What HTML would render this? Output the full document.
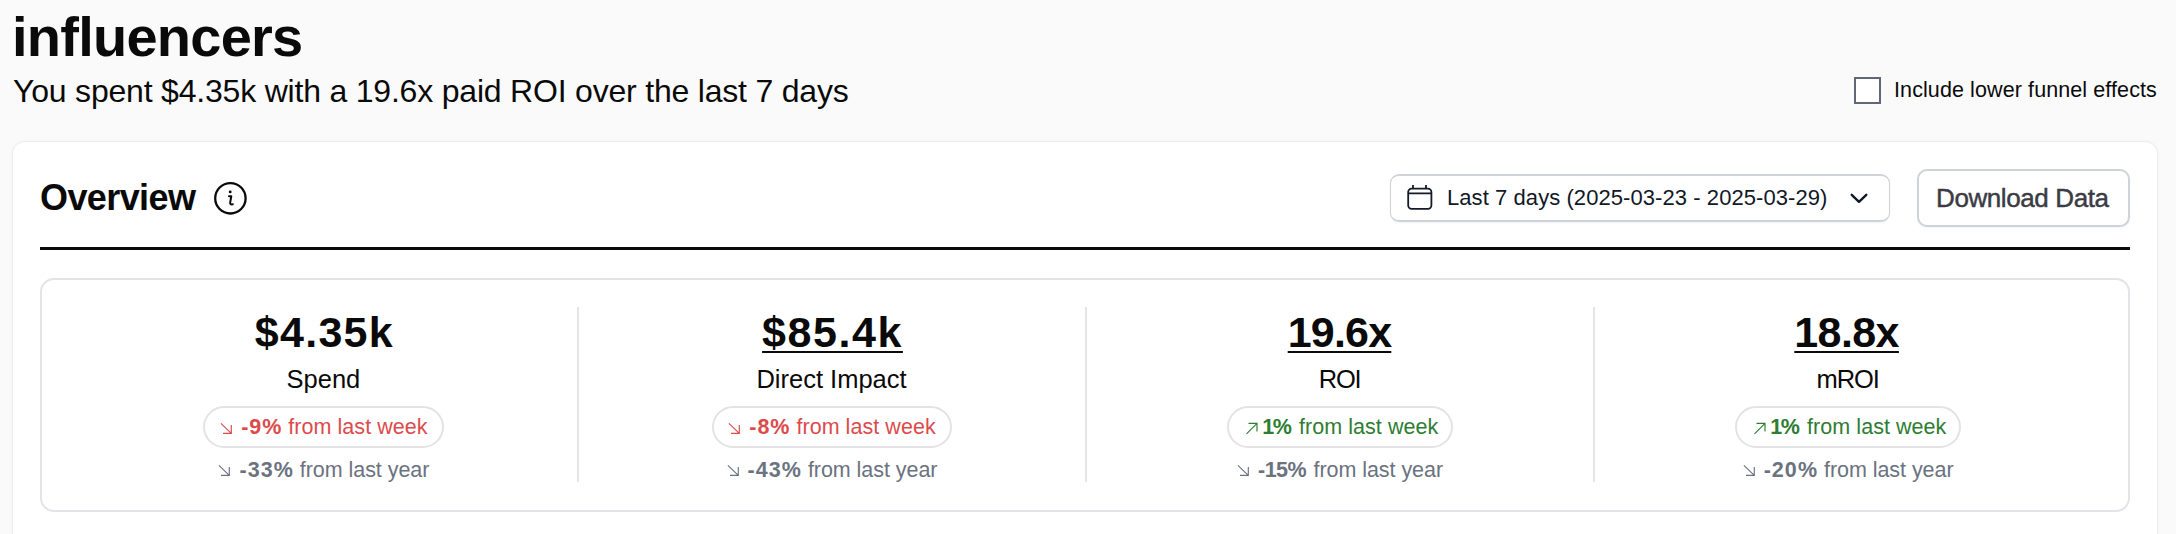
<!DOCTYPE html>
<html><head><meta charset="utf-8">
<style>
html,body{margin:0;padding:0;}
body{width:2176px;height:534px;overflow:hidden;background:#fafafa;position:relative;font-family:"Liberation Sans",sans-serif;color:#0a0a0a;}
.a{position:absolute;white-space:nowrap;line-height:1;}
#title{left:12px;top:9px;font-size:56px;font-weight:700;letter-spacing:-0.75px;}
#sub{left:13px;top:75px;font-size:32px;letter-spacing:-0.2px;}
#cb{left:1854px;top:77px;width:23px;height:23px;border:2px solid #606775;background:#fff;}
#cbl{left:1894px;top:80px;font-size:21.5px;letter-spacing:0.1px;}
#card{left:13px;top:142px;width:2144px;height:420px;background:#fff;border-radius:12px;box-shadow:0 0 4px rgba(0,0,0,0.05),0 0 0 1px rgba(0,0,0,0.035);}
#ov{left:40px;top:180px;font-size:36px;font-weight:700;letter-spacing:-0.6px;}
#info{left:212px;top:180px;}
#rule{left:40px;top:247px;width:2090px;height:3px;background:#0a0a0a;}
#dd{left:1390px;top:174px;width:498px;height:44px;border-style:solid;border-color:#cfd2d8;border-width:2px 1px;border-radius:9px;background:#fff;box-shadow:0 1px 2px rgba(0,0,0,0.05);}
#cal{left:1405px;top:183px;}
#chev{left:1848px;top:190px;}
#ddt{left:1447px;top:187px;font-size:22px;color:#111827;letter-spacing:0.07px;}
#dl{left:1917px;top:169px;width:209px;height:54px;border:2px solid #cfd2d8;border-radius:10px;background:#fff;box-shadow:0 1px 2px rgba(0,0,0,0.05);}
#dlt{left:1936px;top:185px;font-size:26px;color:#3b3b44;letter-spacing:-0.4px;-webkit-text-stroke:0.45px #3b3b44;}
#box{left:40px;top:278px;width:2086px;height:230px;border:2px solid #e4e4e8;border-radius:14px;}
.div{top:307px;width:2px;height:175px;background:#e4e5e9;}
.col{width:508px;top:0;height:534px;}
.col > .a{left:0;width:508px;text-align:center;}
.val{top:311px;font-size:43px;font-weight:700;}
.val span{text-decoration:underline;text-decoration-thickness:2px;text-underline-offset:4px;}
.lab{top:367px;font-size:25.5px;}
.pill{display:inline-block;height:38px;line-height:38px;padding:0;text-align:center;border:2px solid #e3e3e3;border-radius:22px;}
.pt{top:406px;font-size:21.5px;letter-spacing:0.05px;}
.yt{top:460px;font-size:21.5px;color:#6b7280;letter-spacing:-0.05px;}
.pt b{font-weight:700;letter-spacing:0.95px;}
.yt b{font-weight:700;letter-spacing:1.05px;}
.red{color:#dc4b4b;}
.grn{color:#2e7d32;}
.arr{display:inline-block;vertical-align:-1px;margin-right:9px;overflow:visible;}
.yt .arr{vertical-align:0;}
</style></head><body>
<div class="a" id="title">influencers</div>
<div class="a" id="sub">You spent $4.35k with a 19.6x paid ROI over the last 7 days</div>
<div class="a" id="cb"></div>
<div class="a" id="cbl">Include lower funnel effects</div>
<div class="a" id="card"></div>
<div class="a" id="ov">Overview</div>
<svg class="a" id="info" width="37" height="37" viewBox="0 0 37 37"><circle cx="18.4" cy="18.3" r="15.2" fill="none" stroke="#0a0a0a" stroke-width="2.3"/><circle cx="18.2" cy="11.9" r="1.45" fill="#0a0a0a"/><path d="M17 16.3 L19.3 16.3 L18.2 22.4 Q17.8 24.9 20.8 24.3" fill="none" stroke="#0a0a0a" stroke-width="2" stroke-linecap="round" stroke-linejoin="round"/></svg>
<div class="a" id="rule"></div>
<div class="a" id="dd"></div>
<svg class="a" id="cal" width="30" height="30" viewBox="0 0 30 30"><rect x="3.2" y="5.6" width="23.2" height="20.2" rx="3.5" fill="none" stroke="#151a28" stroke-width="1.8"/><path d="M3.2 10.4 H26.4 M8 2 V6 M21 2 V6" stroke="#151a28" stroke-width="1.8" fill="none"/></svg>
<div class="a" id="ddt">Last 7 days (2025-03-23 - 2025-03-29)</div>
<svg class="a" id="chev" width="22" height="16" viewBox="0 0 22 16"><path d="M3.7 4.8 L11 11.8 L18.3 4.8" fill="none" stroke="#111827" stroke-width="2.4" stroke-linecap="round" stroke-linejoin="round"/></svg>
<div class="a" id="dl"></div>
<div class="a" id="dlt">Download Data</div>
<div class="a" id="box"></div>
<div class="a div" style="left:577px"></div>
<div class="a div" style="left:1085px"></div>
<div class="a div" style="left:1593px"></div>
<div class="a col" style="left:69.4px">
<div class="a val" style="letter-spacing:1.3px;left:1px">$4.35k</div>
<div class="a lab">Spend</div>
<div class="a pt"><span class="pill red" style="width:237px"><svg class="arr" width="13" height="12" viewBox="0 0 13 12"><path d="M1.9 0.3 L12.3 10.3 M4 10.3 H12.3 V2" fill="none" stroke="currentColor" stroke-width="1.15"/></svg><b>-9%</b> from last week</span></div>
<div class="a yt"><svg class="arr" width="13" height="12" viewBox="0 0 13 12"><path d="M1.9 0.3 L12.3 10.3 M4 10.3 H12.3 V2" fill="none" stroke="currentColor" stroke-width="1.15"/></svg><b>-33%</b> from last year</div>
</div>
<div class="a col" style="left:577.5px">
<div class="a val" style="letter-spacing:1.55px;left:1px"><span>$85.4k</span></div>
<div class="a lab">Direct Impact</div>
<div class="a pt"><span class="pill red" style="width:236px"><svg class="arr" width="13" height="12" viewBox="0 0 13 12"><path d="M1.9 0.3 L12.3 10.3 M4 10.3 H12.3 V2" fill="none" stroke="currentColor" stroke-width="1.15"/></svg><b>-8%</b> from last week</span></div>
<div class="a yt"><svg class="arr" width="13" height="12" viewBox="0 0 13 12"><path d="M1.9 0.3 L12.3 10.3 M4 10.3 H12.3 V2" fill="none" stroke="currentColor" stroke-width="1.15"/></svg><b>-43%</b> from last year</div>
</div>
<div class="a col" style="left:1085.5px">
<div class="a val" style="letter-spacing:-0.8px"><span>19.6x</span></div>
<div class="a lab" style="letter-spacing:-1.3px">ROI</div>
<div class="a pt"><span class="pill grn" style="width:219px;padding-left:3px"><svg class="arr" style="margin-left:1.5px;margin-right:4px" width="13" height="12" viewBox="0 0 13 12"><path d="M1.5 10.8 L12 0.4 M3.5 0.4 H12 V8.5" fill="none" stroke="currentColor" stroke-width="1.15"/></svg><b style="letter-spacing:-1.5px;margin-right:2.7px">1%</b> from last week</span></div>
<div class="a yt"><svg class="arr" width="13" height="12" viewBox="0 0 13 12"><path d="M1.9 0.3 L12.3 10.3 M4 10.3 H12.3 V2" fill="none" stroke="currentColor" stroke-width="1.15"/></svg><b style="letter-spacing:-0.5px;margin-right:1.4px">-15%</b> from last year</div>
</div>
<div class="a col" style="left:1593.6px">
<div class="a val" style="letter-spacing:-0.6px;left:-1px"><span>18.8x</span></div>
<div class="a lab" style="letter-spacing:-1.1px">mROI</div>
<div class="a pt"><span class="pill grn" style="width:219px;padding-left:3px"><svg class="arr" style="margin-left:1.5px;margin-right:4px" width="13" height="12" viewBox="0 0 13 12"><path d="M1.5 10.8 L12 0.4 M3.5 0.4 H12 V8.5" fill="none" stroke="currentColor" stroke-width="1.15"/></svg><b style="letter-spacing:-1.5px;margin-right:2.7px">1%</b> from last week</span></div>
<div class="a yt"><svg class="arr" width="13" height="12" viewBox="0 0 13 12"><path d="M1.9 0.3 L12.3 10.3 M4 10.3 H12.3 V2" fill="none" stroke="currentColor" stroke-width="1.15"/></svg><b>-20%</b> from last year</div>
</div>
</body></html>
